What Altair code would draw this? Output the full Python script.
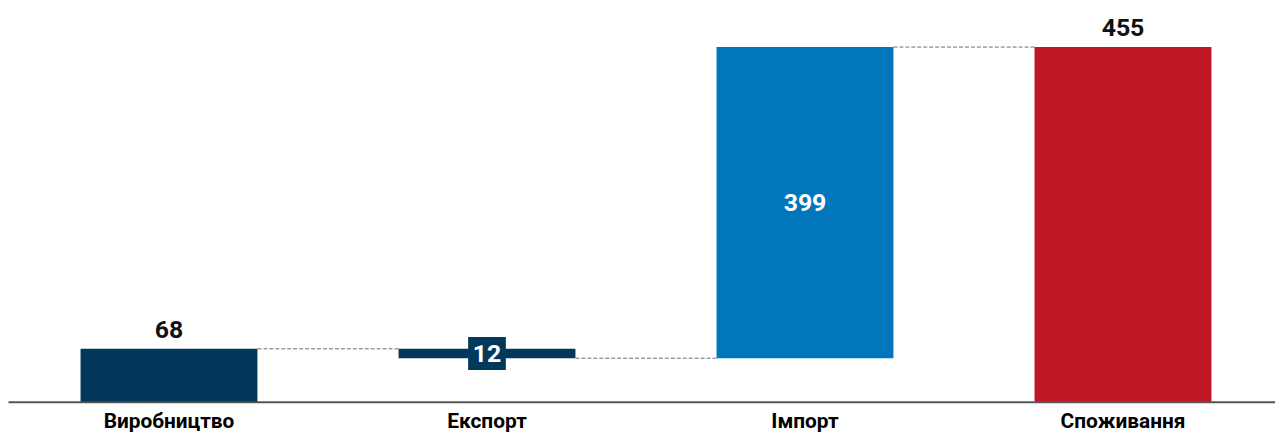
import altair as alt
import pandas as pd

categories = ["Виробництво", "Експорт", "Імпорт", "Споживання"]
changes = [68, -12, 399, 455]
kinds = ["total", "delta", "delta", "total"]
labels = ["68", "12", "399", "455"]
colors = ["#02395B", "#02395B", "#0077BC", "#BE1723"]

rows = []
running = 0
for cat, ch, kind, lab, col in zip(categories, changes, kinds, labels, colors):
    if kind == "total":
        start, end = 0, ch
    else:
        start, end = running, running + ch
    running = end
    top = max(start, end)
    if kind == "total":
        place = "above"
    elif abs(ch) > 40:
        place = "inside"
    else:
        place = "box"
    rows.append(dict(cat=cat, start=start, end=end, top=top,
                     mid=(start + end) / 2, label=lab, color=col, place=place))
df = pd.DataFrame(rows)

conn = pd.DataFrame([
    dict(frm=rows[i]["cat"], to=rows[i + 1]["cat"], level=rows[i]["end"])
    for i in range(len(rows) - 1)
])

FONT = "Roboto"


def xs():
    return alt.Scale(type="band", domain=categories, paddingInner=0.44375,
                     paddingOuter=0.214, align=0.533)


yscale = alt.Scale(domain=[0, 503.4], nice=False, zero=True)

xenc = alt.X("cat:N", sort=categories, scale=xs(),
             axis=alt.Axis(title=None, labelAngle=0, labelFont=FONT,
                           labelFontWeight="bold", labelFontSize=21,
                           labelColor="#000000", ticks=False, domain=True,
                           domainColor="#555555", domainWidth=2,
                           labelPadding=9))

bars = alt.Chart(df).mark_bar().encode(
    x=xenc,
    y=alt.Y("start:Q", scale=yscale, axis=None),
    y2="end:Q",
    color=alt.Color("color:N", scale=None),
)

connectors = alt.Chart(conn).mark_rule(
    color="#707070", strokeWidth=1, strokeDash=[4, 2]
).encode(
    x=alt.X("frm:N", sort=categories, scale=xs(), bandPosition=1),
    x2=alt.X2("to:N", bandPosition=0),
    y=alt.Y("level:Q", scale=yscale),
)

above = alt.Chart(df).transform_filter(alt.datum.place == "above").mark_text(
    font=FONT, fontWeight="bold", fontSize=25, color="#111111",
    baseline="alphabetic", dy=-11
).encode(
    x=alt.X("cat:N", sort=categories, scale=xs()),
    y=alt.Y("top:Q", scale=yscale),
    text="label:N",
)

inside = alt.Chart(df).transform_filter(alt.datum.place == "inside").mark_text(
    font=FONT, fontWeight="bold", fontSize=25, color="#FFFFFF",
    baseline="middle"
).encode(
    x=alt.X("cat:N", sort=categories, scale=xs()),
    y=alt.Y("mid:Q", scale=yscale),
    text="label:N",
)

boxes = alt.Chart(df).transform_filter(alt.datum.place == "box").mark_point(
    shape="M-1.15,-1L1.15,-1L1.15,1L-1.15,1Z", size=1089, filled=True,
    opacity=1, strokeWidth=0
).encode(
    x=alt.X("cat:N", sort=categories, scale=xs()),
    y=alt.Y("mid:Q", scale=yscale),
    color=alt.Color("color:N", scale=None),
)

boxtext = alt.Chart(df).transform_filter(alt.datum.place == "box").mark_text(
    font=FONT, fontWeight="bold", fontSize=25, color="#FFFFFF",
    baseline="middle", dy=1
).encode(
    x=alt.X("cat:N", sort=categories, scale=xs()),
    y=alt.Y("mid:Q", scale=yscale),
    text="label:N",
)

chart = alt.layer(bars, connectors, above, inside, boxes, boxtext).properties(
    width=1275, height=395,
    autosize=alt.AutoSizeParams(type="none"),
    padding={"left": 0, "top": 0, "right": 0, "bottom": 30},
).configure_view(stroke=None)

chart.save("out.html", embed_options={"renderer": "svg", "actions": False})
